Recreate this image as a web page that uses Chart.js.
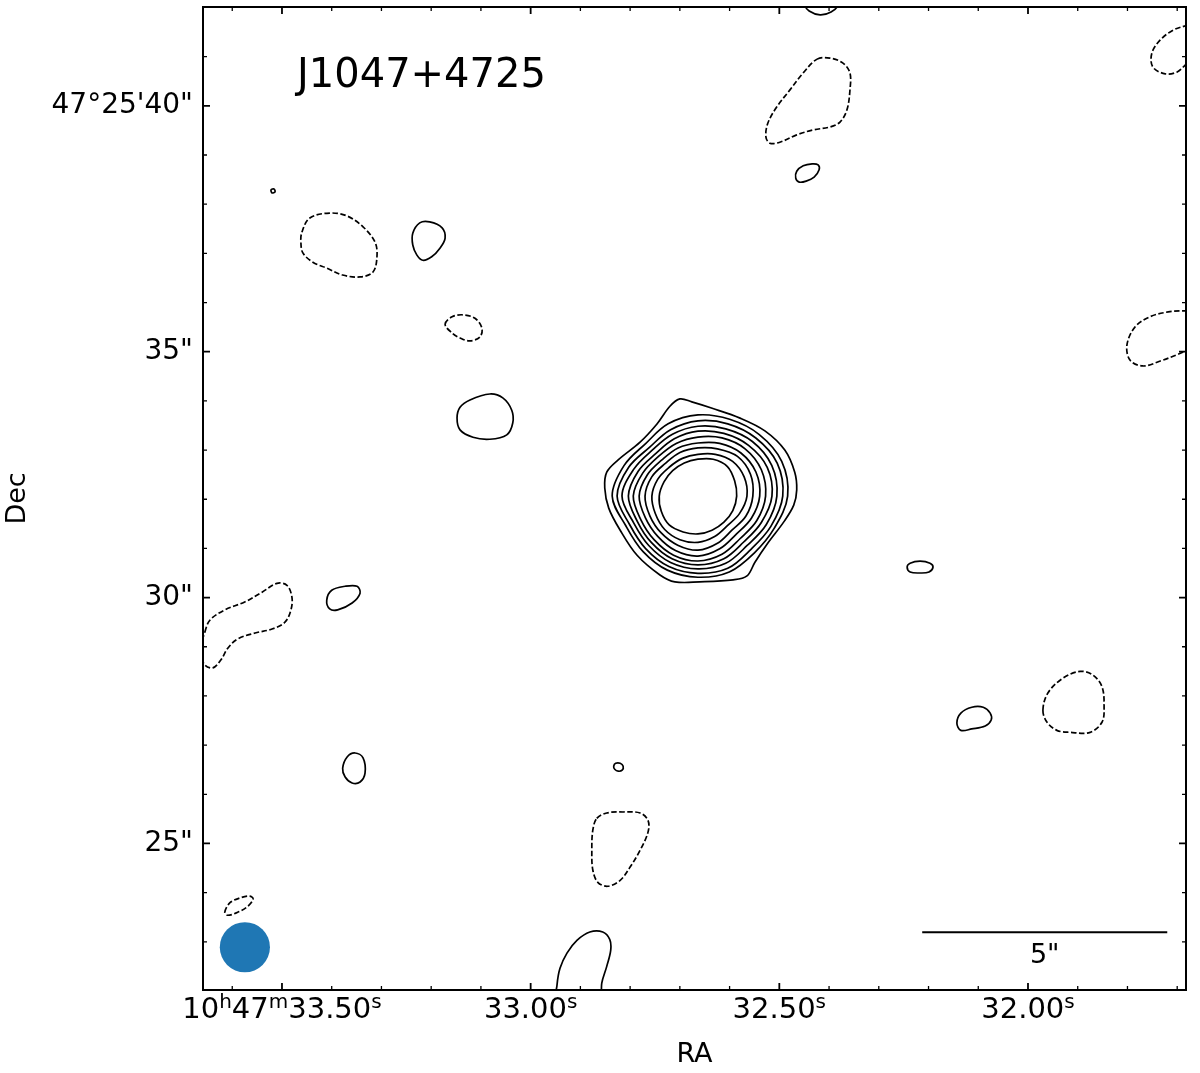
<!DOCTYPE html>
<html>
<head>
<meta charset="utf-8">
<script src="https://cdn.jsdelivr.net/npm/chart.js@4.4.1/dist/chart.umd.min.js"></script>
<style>
  html, body { margin: 0; padding: 0; background: #fff; }
</style>
</head>
<body>
<canvas id="map" width="1200" height="1073"></canvas>
<script>
// Axis tick values and labels (RA seconds of 10h47m, Dec arcsec of +47d25')
const raTicks = [33.5, 33.0, 32.5, 32.0];
const raLabels = ['10\u02b047\u1d5033.50\u02e2', '33.00\u02e2', '32.50\u02e2', '32.00\u02e2'];
const decTicks = [40, 35, 30, 25];
const decLabels = ['47\u00b025\'40"', '35"', '30"', '25"'];

const X_MIN = 31.6823, X_MAX = 33.6588;
const Y_MIN = 22.02, Y_MAX = 42.01;
const SEC_ARCSEC = 15 * Math.cos(47.4256 * Math.PI / 180);

// Main source: outermost contour as points [RA s, Dec "]
const coreOuter = [[32.700,34.04],[32.676,33.98],[32.635,33.85],[32.579,33.65],[32.529,33.39],[32.489,33.00],
  [32.469,32.55],[32.465,32.19],[32.471,31.88],[32.491,31.54],[32.523,31.11],[32.549,30.72],[32.565,30.44],
  [32.593,30.36],[32.660,30.32],[32.710,30.32],[32.740,30.46],[32.786,30.86],[32.820,31.37],[32.843,31.82],
  [32.851,32.23],[32.847,32.55],[32.824,32.80],[32.780,33.16],[32.746,33.53],[32.720,33.89]];

// Inner contours of the main source: radius (arcsec) read at each position angle around the peak
const SRC_RA = 32.6636, SRC_DEC = 32.064;
const coreAngles = [0, 22.5, 45, 67.5, 90, 112.5, 135, 157.5, 180, 202.5, 225, 247.5, 270, 292.5, 315, 337.5];
const coreR2 = [1.83,1.85,1.77,1.69,1.65,1.59,1.51,1.63,1.75,1.59,1.59,1.63,1.65,1.67,1.63,1.69];
const coreR3 = [1.73,1.75,1.67,1.59,1.53,1.46,1.40,1.53,1.65,1.51,1.51,1.55,1.57,1.59,1.53,1.61];
const coreR4 = [1.61,1.63,1.57,1.48,1.42,1.36,1.32,1.42,1.55,1.42,1.42,1.46,1.48,1.48,1.42,1.51];
const coreR5 = [1.51,1.53,1.46,1.38,1.32,1.26,1.22,1.32,1.42,1.34,1.34,1.38,1.40,1.38,1.32,1.40];
const coreR6 = [1.38,1.40,1.36,1.28,1.20,1.16,1.14,1.22,1.32,1.26,1.26,1.30,1.32,1.28,1.22,1.30];
const coreR7 = [1.26,1.28,1.24,1.16,1.08,1.06,1.04,1.12,1.20,1.16,1.16,1.20,1.22,1.16,1.10,1.18];
const coreR8 = [1.12,1.16,1.14,1.04,0.98,0.96,0.94,1.02,1.08,1.06,1.06,1.08,1.10,1.04,0.98,1.06];
const coreR9 = [1.00,1.02,1.00,0.92,0.85,0.83,0.83,0.89,0.94,0.94,0.96,0.96,0.94,0.89,0.85,0.92];
const coreR10 = [0.79,0.81,0.85,0.81,0.75,0.73,0.73,0.75,0.79,0.81,0.83,0.79,0.77,0.75,0.75,0.77];

// Positive noise contours (solid)
const posTopEdge = [[32.448,42.05],[32.440,41.93],[32.418,41.85],[32.396,41.91],[32.382,42.05],[32.392,42.19],[32.416,42.25],[32.440,42.19]];
const posNorth = [[32.467,38.53],[32.465,38.67],[32.452,38.78],[32.434,38.82],[32.422,38.80],[32.420,38.70],[32.430,38.55],[32.446,38.47],[32.460,38.45]];
const posNW = [[33.237,37.41],[33.223,37.62],[33.203,37.64],[33.178,37.52],[33.172,37.31],[33.182,37.11],[33.199,36.93],[33.217,36.86],[33.229,36.97],[33.237,37.17]];
const posDot = [[33.522,38.29],[33.516,38.31],[33.514,38.25],[33.520,38.23]];
const posWest = [[33.148,33.65],[33.142,33.87],[33.122,34.02],[33.082,34.14],[33.056,34.06],[33.038,33.81],[33.036,33.55],[33.048,33.31],[33.082,33.22],[33.116,33.26],[33.142,33.41]];
const posWestB = [[33.410,29.95],[33.400,30.15],[33.373,30.23],[33.349,30.23],[33.343,30.09],[33.359,29.89],[33.388,29.75],[33.404,29.77]];
const posSW = [[33.378,26.53],[33.369,26.76],[33.353,26.84],[33.337,26.74],[33.333,26.43],[33.343,26.25],[33.359,26.23],[33.373,26.35]];
const posSmall = [[32.833,26.57],[32.829,26.63],[32.820,26.63],[32.814,26.57],[32.816,26.49],[32.824,26.47],[32.831,26.51]];
const posBottom = [[32.949,21.61],[32.947,22.12],[32.941,22.46],[32.927,22.77],[32.907,23.03],[32.881,23.20],[32.855,23.20],[32.841,23.05],[32.839,22.83],[32.847,22.50],[32.857,22.16],[32.863,21.61]];
const posSE = [[32.143,27.45],[32.135,27.65],[32.113,27.77],[32.090,27.77],[32.076,27.65],[32.074,27.51],[32.086,27.39],[32.113,27.33],[32.135,27.30]];
const posEast = [[32.243,30.62],[32.237,30.70],[32.217,30.74],[32.197,30.70],[32.191,30.62],[32.199,30.52],[32.217,30.50],[32.237,30.52]];

// Negative contours (dashed)
const negNorth = [[32.424,40.95],[32.398,40.97],[32.372,40.87],[32.358,40.67],[32.358,40.32],[32.364,39.92],[32.378,39.67],[32.398,39.57],
  [32.432,39.51],[32.465,39.41],[32.499,39.26],[32.519,39.24],[32.527,39.37],[32.523,39.65],[32.505,39.98],[32.479,40.32],[32.452,40.67]];
const negCornerNE = [[31.664,41.71],[31.680,41.64],[31.708,41.54],[31.734,41.34],[31.751,41.07],[31.749,40.79],[31.724,40.65],[31.700,40.69],[31.684,40.83],[31.664,41.03],[31.654,41.34]];
const negEdgeE = [[31.664,35.81],[31.688,35.83],[31.718,35.81],[31.755,35.71],[31.785,35.50],[31.801,35.14],[31.795,34.83],[31.769,34.71],[31.734,34.81],[31.698,34.95],[31.674,35.07],[31.654,35.24]];
const negNW = [[33.460,37.43],[33.444,37.72],[33.404,37.82],[33.369,37.76],[33.337,37.54],[33.313,37.23],[33.309,36.93],[33.317,36.62],[33.343,36.52],[33.378,36.56],[33.410,36.70],[33.438,36.82],[33.458,37.01],[33.462,37.23]];
const negSmall = [[33.172,35.56],[33.158,35.71],[33.136,35.75],[33.112,35.68],[33.098,35.48],[33.102,35.30],[33.122,35.22],[33.142,35.28],[33.158,35.38]];
const negEdgeW = [[33.655,29.30],[33.645,29.54],[33.615,29.75],[33.575,29.91],[33.540,30.11],[33.510,30.29],[33.490,30.25],[33.480,30.01],[33.482,29.75],
  [33.494,29.50],[33.520,29.36],[33.554,29.28],[33.589,29.16],[33.609,28.97],[33.623,28.73],[33.639,28.57],[33.655,28.63],[33.665,28.89]];
const negSouth = [[32.867,25.51],[32.847,25.62],[32.814,25.64],[32.780,25.62],[32.764,25.47],[32.764,25.23],[32.780,24.86],[32.800,24.52],[32.820,24.25],[32.845,24.13],[32.865,24.21],[32.875,24.46],[32.877,24.86],[32.875,25.27]];
const negSE = [[31.970,27.71],[31.960,28.06],[31.930,28.36],[31.895,28.50],[31.869,28.42],[31.851,28.18],[31.847,27.77],[31.851,27.47],[31.875,27.26],[31.916,27.26],[31.942,27.30],[31.962,27.47]];
const negSW = [[33.615,23.60],[33.605,23.79],[33.585,23.89],[33.565,23.93],[33.558,23.87],[33.569,23.72],[33.589,23.60],[33.609,23.54]];

// Beam and scale bar
const BEAM_RA = 33.5746, BEAM_DEC = 22.89, BEAM_ARCSEC = 1.02;
const BAR_END_RA = 31.720, BAR_DEC = 23.196, BAR_ARCSEC = 5;

const FONT = "'DejaVu Sans', sans-serif";
Chart.defaults.font.family = FONT;
const SUPER = { '\u02b0': 'h', '\u1d50': 'm', '\u02e2': 's' };

function fromPolar(radii) {
    return radii.map((r, i) => {
        const t = coreAngles[i] * Math.PI / 180;
        return [SRC_RA - r * Math.cos(t) / SEC_ARCSEC, SRC_DEC + r * Math.sin(t)];
    });
}

function contour(points, negative) {
    return {
        data: points,
        closed: true,
        borderColor: '#000',
        borderWidth: 1.7,
        borderDash: negative ? [5.5, 2.5] : [],
        tension: 0.35,
        capBezierPoints: false,
        spanGaps: true,
        pointRadius: 0,
        fill: false
    };
}

const datasets = [
    contour(coreOuter, false),
    ...[coreR2, coreR3, coreR4, coreR5, coreR6, coreR7, coreR8, coreR9, coreR10].map(r => contour(fromPolar(r), false)),
    ...[posTopEdge, posNorth, posNW, posDot, posWest, posWestB, posSW, posSmall, posBottom, posSE, posEast].map(p => contour(p, false)),
    ...[negNorth, negCornerNE, negEdgeE, negNW, negSmall, negEdgeW, negSouth, negSE, negSW].map(p => contour(p, true))
];

// contour lines are closed rings: tell the line elements to wrap around
const closedContours = {
    id: 'closedContours',
    beforeDatasetsDraw(chart) {
        chart.data.datasets.forEach((ds, i) => {
            if (!ds.closed) return;
            const line = chart.getDatasetMeta(i).dataset;
            if (!line) return;
            line._loop = true;
            line._fullLoop = true;
            line._pointsUpdated = false;
            line._path = undefined;
            line._segments = undefined;
        });
    }
};

// RA labels with raised h/m/s
function drawRaLabel(ctx, label, cx, baseline) {
    const runs = [];
    for (const ch of label) {
        const sup = SUPER[ch] !== undefined;
        const c = sup ? SUPER[ch] : ch;
        if (runs.length && runs[runs.length - 1].sup === sup) runs[runs.length - 1].text += c;
        else runs.push({ text: c, sup });
    }
    const fontFor = r => (r.sup ? '20px ' : '29px ') + FONT;
    let total = 0;
    runs.forEach(r => { ctx.font = fontFor(r); r.w = ctx.measureText(r.text).width; total += r.w; });
    let xp = cx - total / 2;
    ctx.textAlign = 'left';
    ctx.textBaseline = 'alphabetic';
    runs.forEach(r => {
        ctx.font = fontFor(r);
        ctx.fillText(r.text, xp, r.sup ? baseline - 10 : baseline);
        xp += r.w;
    });
}

const decorations = {
    id: 'decorations',
    afterDatasetsDraw(chart) {
        const {ctx, chartArea: a, scales: {x, y}} = chart;
        ctx.save();

        // beam
        const pxPerArcsec = Math.abs(y.getPixelForValue(1) - y.getPixelForValue(0));
        ctx.fillStyle = '#1f77b4';
        ctx.beginPath();
        ctx.arc(x.getPixelForValue(BEAM_RA), y.getPixelForValue(BEAM_DEC), BEAM_ARCSEC / 2 * pxPerArcsec, 0, Math.PI * 2);
        ctx.fill();

        // scale bar
        const bx1 = x.getPixelForValue(BAR_END_RA + BAR_ARCSEC / SEC_ARCSEC);
        const bx2 = x.getPixelForValue(BAR_END_RA);
        const by = y.getPixelForValue(BAR_DEC);
        ctx.strokeStyle = '#000';
        ctx.lineWidth = 2;
        ctx.beginPath();
        ctx.moveTo(bx1, by);
        ctx.lineTo(bx2, by);
        ctx.stroke();
        ctx.fillStyle = '#000';
        ctx.font = '27px ' + FONT;
        ctx.textAlign = 'center';
        ctx.textBaseline = 'middle';
        ctx.fillText(BAR_ARCSEC + '"', (bx1 + bx2) / 2, by + 24);

        // source name
        ctx.font = '40px ' + FONT;
        ctx.textAlign = 'left';
        ctx.textBaseline = 'alphabetic';
        ctx.fillText('J1047+4725', a.left + 94, 87);

        // RA tick labels
        raTicks.forEach((v, i) => drawRaLabel(ctx, raLabels[i], x.getPixelForValue(v), a.bottom + 28));

        // inward ticks on all four sides
        const tick = (len, width, xs, ys) => {
            ctx.lineWidth = width;
            ctx.beginPath();
            xs.forEach(v => {
                const p = x.getPixelForValue(v);
                ctx.moveTo(p, a.bottom); ctx.lineTo(p, a.bottom - len);
                ctx.moveTo(p, a.top); ctx.lineTo(p, a.top + len);
            });
            ys.forEach(v => {
                const p = y.getPixelForValue(v);
                ctx.moveTo(a.left, p); ctx.lineTo(a.left + len, p);
                ctx.moveTo(a.right, p); ctx.lineTo(a.right - len, p);
            });
            ctx.stroke();
        };
        const raMinor = [], decMinor = [];
        for (let k = 317; k <= 336; k++) if (k % 5) raMinor.push(k / 10);
        for (let k = 23; k <= 41; k++) if (k % 5) decMinor.push(k);
        tick(7, 1.8, raTicks, decTicks);
        tick(4, 1.3, raMinor, decMinor);

        // frame
        ctx.lineWidth = 2;
        ctx.strokeRect(a.left, a.top, a.right - a.left, a.bottom - a.top);
        ctx.restore();
    }
};

new Chart(document.getElementById('map'), {
    type: 'line',
    data: { datasets },
    options: {
        responsive: false,
        animation: false,
        devicePixelRatio: 1,
        layout: { padding: { left: 0, right: 14, top: 7, bottom: 0 } },
        plugins: { legend: { display: false }, tooltip: { enabled: false } },
        elements: { point: { radius: 0 } },
        scales: {
            x: {
                type: 'linear',
                reverse: true,
                min: X_MIN,
                max: X_MAX,
                grid: { display: false, drawTicks: false },
                border: { display: false },
                afterBuildTicks: s => { s.ticks = raTicks.map(v => ({ value: v })); },
                afterFit: s => { s.height = 83; s.paddingLeft = 0; s.paddingRight = 0; },
                ticks: { display: false },
                title: { display: true, text: 'RA', color: '#000', font: { size: 27 }, padding: { top: 0, bottom: 2 } }
            },
            y: {
                type: 'linear',
                min: Y_MIN,
                max: Y_MAX,
                grid: { display: false, drawTicks: false },
                border: { display: false },
                afterBuildTicks: s => { s.ticks = decTicks.map(v => ({ value: v })); },
                afterFit: s => { s.width = 203; s.paddingTop = 0; s.paddingBottom = 0; },
                ticks: {
                    autoSkip: false, padding: 10, color: '#000',
                    font: { size: 28 },
                    callback: (v, i) => decLabels[i]
                },
                title: { display: true, text: 'Dec', color: '#000', font: { size: 27 }, padding: { top: 2, bottom: 0 } }
            }
        }
    },
    plugins: [closedContours, decorations]
});
</script>
</body>
</html>
